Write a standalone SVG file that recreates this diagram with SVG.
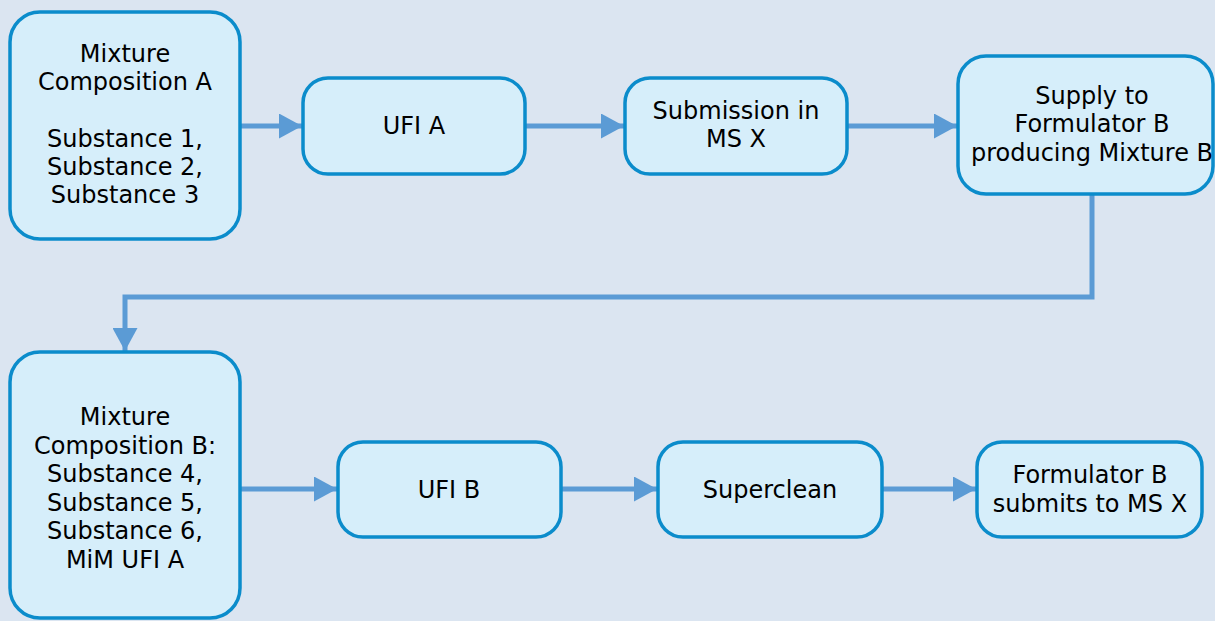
<svg xmlns="http://www.w3.org/2000/svg" width="1215" height="621" viewBox="0 0 1215 621">
<defs>
<style>
.box{fill:#d6eefa;stroke:#0b8ccb;stroke-width:3.5}
.t{font-family:"DejaVu Sans","Liberation Sans",sans-serif;font-size:24px;fill:#000;text-anchor:middle}
.c{fill:none;stroke:#5b9bd5;stroke-width:5}
</style>
<marker id="ah" markerUnits="userSpaceOnUse" markerWidth="24" markerHeight="25" refX="23" refY="12.5" orient="auto">
<path d="M0,0 L23,12.5 L0,25 z" fill="#5b9bd5"/>
</marker>
</defs>
<rect width="1215" height="621" fill="#dbe5f1"/>
<g id="connectors">
<line class="c" x1="240" y1="126" x2="302" y2="126" marker-end="url(#ah)"/>
<line class="c" x1="525" y1="126" x2="624" y2="126" marker-end="url(#ah)"/>
<line class="c" x1="847" y1="126" x2="957" y2="126" marker-end="url(#ah)"/>
<polyline class="c" points="1092,194 1092,297 125,297 125,351" marker-end="url(#ah)"/>
<line class="c" x1="240" y1="489" x2="337" y2="489" marker-end="url(#ah)"/>
<line class="c" x1="561" y1="489" x2="657" y2="489" marker-end="url(#ah)"/>
<line class="c" x1="882" y1="489" x2="976" y2="489" marker-end="url(#ah)"/>
</g>
<g id="mixA">
<rect class="box" x="10" y="12" width="230" height="227" rx="30"/>
<text class="t" x="125" y="62">Mixture</text>
<text class="t" x="125" y="90">Composition A</text>
<text class="t" x="125" y="147">Substance 1,</text>
<text class="t" x="125" y="175">Substance 2,</text>
<text class="t" x="125" y="203">Substance 3</text>
</g>
<g id="ufiA">
<rect class="box" x="303" y="78" width="222" height="96" rx="25"/>
<text class="t" x="414" y="134">UFI A</text>
</g>
<g id="submission">
<rect class="box" x="625" y="78" width="222" height="96" rx="25"/>
<text class="t" x="736" y="119">Submission in</text>
<text class="t" x="736" y="147">MS X</text>
</g>
<g id="supply">
<rect class="box" x="958" y="56" width="255" height="138" rx="28"/>
<text class="t" x="1092" y="104">Supply to</text>
<text class="t" x="1092" y="132">Formulator B</text>
<text class="t" x="1092" y="161">producing Mixture B</text>
</g>
<g id="mixB">
<rect class="box" x="10" y="352" width="230" height="266" rx="30"/>
<text class="t" x="125" y="425">Mixture</text>
<text class="t" x="125" y="454">Composition B:</text>
<text class="t" x="125" y="482">Substance 4,</text>
<text class="t" x="125" y="511">Substance 5,</text>
<text class="t" x="125" y="539">Substance 6,</text>
<text class="t" x="125" y="568">MiM UFI A</text>
</g>
<g id="ufiB">
<rect class="box" x="338" y="442" width="223" height="95" rx="25"/>
<text class="t" x="449" y="498">UFI B</text>
</g>
<g id="superclean">
<rect class="box" x="658" y="442" width="224" height="95" rx="25"/>
<text class="t" x="770" y="498">Superclean</text>
</g>
<g id="formB">
<rect class="box" x="977" y="442" width="225" height="95" rx="25"/>
<text class="t" x="1090" y="483">Formulator B</text>
<text class="t" x="1090" y="512">submits to MS X</text>
</g>
</svg>
